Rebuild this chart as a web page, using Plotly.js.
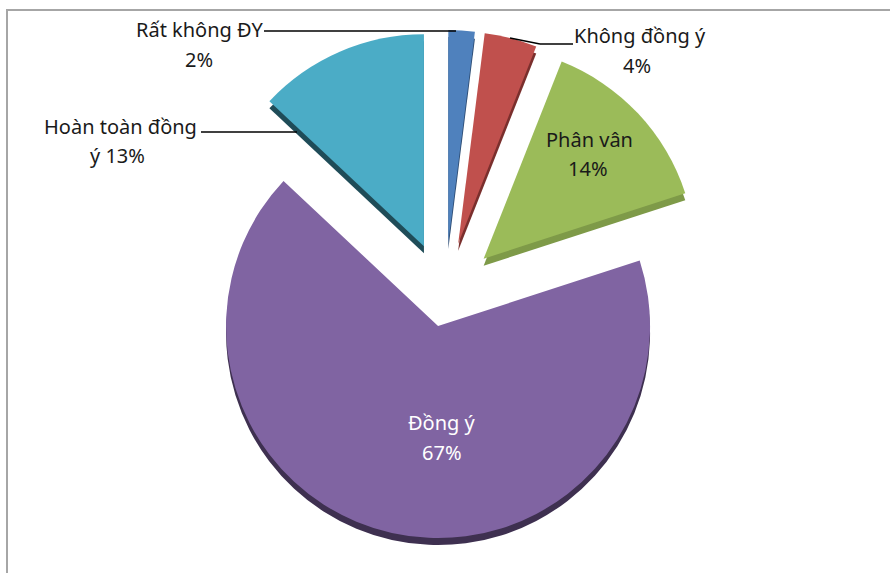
<!DOCTYPE html>
<html>
<head>
<meta charset="utf-8">
<script src="https://cdn.plot.ly/plotly-3.0.1.min.js"></script>
<style>html,body{margin:0;padding:0;background:#fff;}#chart{width:890px;height:573px;}</style>
</head>
<body>
<div id="chart"></div>
<script>
// ---- data ----
var labels = ["Rất không ĐY", "Không đồng ý", "Phân vân", "Đồng ý", "Hoàn toàn đồng ý"];
var values = [2, 4, 14, 67, 13];
var pulls = [0.25, 0.25, 0.25, 0.15, 0.25];
var colors = ["#4F81BD", "#C0504D", "#9BBB59", "#8064A2", "#4BACC6"];
var sideColors = ["#2E4D74", "#7A2F2D", "#7E9A48", "#3E3050", "#1F4C58"];

// ---- geometry (pixels) ----
var W = 890, H = 573;
var cx = 445, cy = 295, R = 212, depth = 7;
var maxPull = Math.max.apply(null, pulls);
var half = R * (1 + maxPull);
function px(x){ return x / W; }
function py(y){ return 1 - y / H; }
function dom(offset){
  return { x: [px(cx - half), px(cx + half)], y: [py(cy + offset + half), py(cy + offset - half)] };
}

var sideTrace = {
  type: 'pie', labels: labels, values: values, sort: false, direction: 'clockwise', rotation: 0,
  pull: pulls, marker: { colors: sideColors, line: { width: 0 } },
  textinfo: 'none', hoverinfo: 'skip', showlegend: false, domain: dom(depth)
};
var topTrace = {
  type: 'pie', labels: labels, values: values, sort: false, direction: 'clockwise', rotation: 0,
  pull: pulls, marker: { colors: colors, line: { width: 0 } },
  textinfo: 'none', hoverinfo: 'label+percent', showlegend: false, domain: dom(0)
};

var font = { family: 'Noto Sans, Open Sans, sans-serif', size: 20, color: '#1a1a1a' };
var white = { family: 'Noto Sans, Open Sans, sans-serif', size: 20, color: '#ffffff' };
function pct(i){ return values[i] + '%'; }

// label positions (pixels): [name x, name y, pct x, pct y]
var labelPos = [
  [199, 30, 199, 59],
  [640, 36, 637, 65],
  [589, 139, 588, 168],
  [442, 423, 442, 452],
  [121, 126, 117, 155]
];
var annotations = [];
labelPos.forEach(function(p, i){
  var f = (i === 3) ? white : font;
  var name = labels[i], second = pct(i);
  if (i === 4) { name = 'Hoàn toàn đồng'; second = 'ý ' + pct(i); }
  annotations.push({ xref: 'paper', yref: 'paper', x: px(p[0]), y: py(p[1]), text: name, showarrow: false, font: f, xanchor: 'center', yanchor: 'middle' });
  annotations.push({ xref: 'paper', yref: 'paper', x: px(p[2]), y: py(p[3]), text: second, showarrow: false, font: f, xanchor: 'center', yanchor: 'middle' });
});

function seg(x0, y0, x1, y1){
  return { type: 'line', xref: 'paper', yref: 'paper', x0: px(x0), y0: py(y0), x1: px(x1), y1: py(y1), line: { color: '#000', width: 1.5 } };
}
var shapes = [
  { type: 'rect', xref: 'paper', yref: 'paper', x0: px(7), x1: 1.05, y0: -0.05, y1: py(10), line: { color: '#A6A6A6', width: 2 }, fillcolor: 'rgba(0,0,0,0)', layer: 'below' },
  seg(264, 31, 456, 31),
  seg(510, 38, 540, 44),
  seg(540, 44, 573, 44),
  seg(201, 132, 297, 132)
];

var layout = {
  width: W, height: H, margin: { l: 0, r: 0, t: 0, b: 0 },
  paper_bgcolor: '#ffffff', plot_bgcolor: '#ffffff',
  showlegend: false, annotations: annotations, shapes: shapes
};
Plotly.newPlot('chart', [sideTrace, topTrace], layout, { staticPlot: true });
</script>
</body>
</html>
